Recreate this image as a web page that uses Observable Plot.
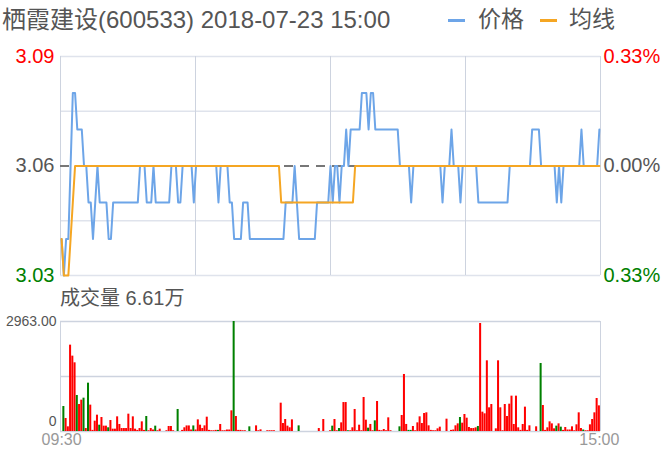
<!DOCTYPE html>
<html><head><meta charset="utf-8">
<script src="https://cdn.jsdelivr.net/npm/d3@7"></script>
<script src="https://cdn.jsdelivr.net/npm/@observablehq/plot@0.6"></script>
<style>
body{margin:0;background:#fff;}
#wrap{position:relative;width:662px;height:458px;overflow:hidden;font-family:"Liberation Sans",Arial,"Noto Sans CJK SC",sans-serif;}
.abs{position:absolute;white-space:nowrap;}
</style></head><body><div id="wrap"></div>
<script>
const title = "栖霞建设(600533) 2018-07-23 15:00";
const seriesNames = ["价格", "均线"];
const priceTicks = [3.09, 3.06, 3.03];
const priceTickLabels = ["3.09", "3.06", "3.03"];
const pctTickLabels = ["0.33%", "0.00%", "0.33%"];
const prevClose = 3.06;
const timeTickIdx = [0, 240];
const timeLabels = ["09:30", "15:00"];
const volumeLabel = "成交量 6.61万";
const volMax = 2963;
const volMaxLabel = "2963.00";

const price = [
3.04,3.03,3.04,3.04,3.06,3.08,3.08,3.07,3.07,3.07,
3.06,3.06,3.05,3.05,3.04,3.05,3.06,3.05,3.05,3.05,
3.05,3.04,3.04,3.05,3.05,3.05,3.05,3.05,3.05,3.05,
3.05,3.05,3.05,3.05,3.05,3.06,3.06,3.06,3.05,3.05,
3.05,3.06,3.05,3.05,3.05,3.05,3.05,3.05,3.05,3.06,
3.06,3.06,3.05,3.05,3.06,3.06,3.06,3.06,3.06,3.05,
3.06,3.06,3.06,3.06,3.06,3.06,3.06,3.06,3.06,3.06,
3.05,3.06,3.06,3.06,3.06,3.05,3.05,3.04,3.04,3.04,
3.04,3.05,3.05,3.05,3.04,3.04,3.04,3.04,3.04,3.04,
3.04,3.04,3.04,3.04,3.04,3.04,3.04,3.04,3.04,3.04,
3.05,3.05,3.05,3.05,3.06,3.05,3.04,3.04,3.04,3.04,
3.04,3.04,3.04,3.04,3.05,3.05,3.05,3.05,3.05,3.05,
3.06,3.05,3.06,3.06,3.05,3.06,3.06,3.07,3.06,3.07,
3.07,3.07,3.07,3.07,3.08,3.08,3.08,3.07,3.08,3.08,
3.07,3.07,3.07,3.07,3.07,3.07,3.07,3.07,3.07,3.07,
3.07,3.06,3.06,3.06,3.06,3.06,3.05,3.06,3.06,3.06,
3.06,3.06,3.06,3.06,3.06,3.06,3.06,3.06,3.06,3.06,
3.05,3.06,3.06,3.06,3.07,3.06,3.06,3.06,3.05,3.06,
3.06,3.06,3.06,3.06,3.06,3.06,3.05,3.05,3.05,3.05,
3.05,3.05,3.05,3.05,3.05,3.05,3.05,3.05,3.05,3.05,
3.06,3.06,3.06,3.06,3.06,3.06,3.06,3.06,3.06,3.06,
3.07,3.07,3.07,3.07,3.06,3.06,3.06,3.06,3.06,3.06,
3.06,3.05,3.06,3.05,3.06,3.06,3.06,3.06,3.06,3.06,
3.06,3.06,3.07,3.06,3.06,3.06,3.06,3.06,3.06,3.06,3.07];

const avg = [
3.04,3.03,3.03,3.03,3.04,3.05,3.06,3.06,3.06,3.06,
3.06,3.06,3.06,3.06,3.06,3.06,3.06,3.06,3.06,3.06,
3.06,3.06,3.06,3.06,3.06,3.06,3.06,3.06,3.06,3.06,
3.06,3.06,3.06,3.06,3.06,3.06,3.06,3.06,3.06,3.06,
3.06,3.06,3.06,3.06,3.06,3.06,3.06,3.06,3.06,3.06,
3.06,3.06,3.06,3.06,3.06,3.06,3.06,3.06,3.06,3.06,
3.06,3.06,3.06,3.06,3.06,3.06,3.06,3.06,3.06,3.06,
3.06,3.06,3.06,3.06,3.06,3.06,3.06,3.06,3.06,3.06,
3.06,3.06,3.06,3.06,3.06,3.06,3.06,3.06,3.06,3.06,
3.06,3.06,3.06,3.06,3.06,3.06,3.06,3.06,3.05,3.05,
3.05,3.05,3.05,3.05,3.05,3.05,3.05,3.05,3.05,3.05,
3.05,3.05,3.05,3.05,3.05,3.05,3.05,3.05,3.05,3.05,
3.05,3.05,3.05,3.05,3.05,3.05,3.05,3.05,3.05,3.05,
3.05,3.06,3.06,3.06,3.06,3.06,3.06,3.06,3.06,3.06,
3.06,3.06,3.06,3.06,3.06,3.06,3.06,3.06,3.06,3.06,
3.06,3.06,3.06,3.06,3.06,3.06,3.06,3.06,3.06,3.06,
3.06,3.06,3.06,3.06,3.06,3.06,3.06,3.06,3.06,3.06,
3.06,3.06,3.06,3.06,3.06,3.06,3.06,3.06,3.06,3.06,
3.06,3.06,3.06,3.06,3.06,3.06,3.06,3.06,3.06,3.06,
3.06,3.06,3.06,3.06,3.06,3.06,3.06,3.06,3.06,3.06,
3.06,3.06,3.06,3.06,3.06,3.06,3.06,3.06,3.06,3.06,
3.06,3.06,3.06,3.06,3.06,3.06,3.06,3.06,3.06,3.06,
3.06,3.06,3.06,3.06,3.06,3.06,3.06,3.06,3.06,3.06,
3.06,3.06,3.06,3.06,3.06,3.06,3.06,3.06,3.06,3.06,3.06];

const volume = [
0,673,350,126,2326,2030,1850,970,727,844,
898,80,1302,710,30,278,440,170,377,144,
144,100,296,63,63,395,189,80,80,80,
467,80,395,63,30,80,260,30,404,20,
80,40,144,20,63,0,0,20,135,135,
20,0,593,0,30,100,150,150,40,150,
40,314,170,80,152,386,30,20,20,30,
30,189,20,20,40,40,557,2963,404,30,
30,20,20,0,126,0,0,152,20,45,
0,0,20,20,20,20,0,0,763,215,
323,144,100,314,0,0,152,0,0,0,
0,0,0,0,0,80,0,323,0,0,
20,144,323,20,80,233,780,780,20,20,
100,593,20,170,20,916,305,90,190,20,
287,808,30,20,54,20,368,20,0,0,
0,126,431,1536,190,30,30,135,20,233,
395,215,485,503,153,30,20,20,72,117,
0,0,332,0,30,40,153,206,377,224,
458,359,108,80,80,99,135,2909,521,476,
1904,638,727,0,72,1904,638,20,727,404,
736,952,189,952,99,30,189,656,30,153,
0,0,126,0,1832,700,30,99,260,206,
72,144,206,117,30,108,40,40,126,20,
180,503,80,40,20,20,180,323,503,889,691];

const downBars = [1,7,10,12,17,21,38,42,52,59,70,77,84,106,121,124,128,137,140,151,155,156,178,186,214,221,223,233];

// ---------- drawing ----------
const FONT = '"Liberation Sans", Arial, "Noto Sans CJK SC", sans-serif';
const BLUE = "#6da5e8", ORANGE = "#f5a623", GRID = "#dfe3ec", BORDER = "#cdd3df";
const RED = "#ff0000", GREEN = "#008000", GREY = "#555";
const tickColors = [RED, GREY, GREEN];

const wrap = document.getElementById("wrap");
const idx = d3.range(price.length);
const X_DOMAIN = [-0.5, price.length - 0.5];
const xQuarters = d3.range(5).map(k => X_DOMAIN[0] + k * (X_DOMAIN[1] - X_DOMAIN[0]) / 4);
const yDomain = [priceTicks[2], priceTicks[0]];
const yQuarters = d3.range(5).map(k => yDomain[0] + k * (yDomain[1] - yDomain[0]) / 4);

const pricePlot = Plot.plot({
  width: 662, height: 260,
  marginLeft: 60, marginRight: 62, marginTop: 26, marginBottom: 15,
  style: {background: "transparent", fontFamily: FONT, overflow: "visible"},
  x: {domain: X_DOMAIN, axis: null},
  y: {domain: yDomain, axis: null},
  marks: [
    Plot.ruleY(yQuarters.filter(v => Math.abs(v - prevClose) > 1e-9), {stroke: GRID, strokeWidth: 1.5}),
    Plot.ruleX(xQuarters, {stroke: BORDER, strokeWidth: 1}),
    Plot.ruleY([prevClose], {stroke: "#777", strokeWidth: 2, strokeDasharray: "9,7"}),
    Plot.line(idx, {x: i => i, y: i => price[i], stroke: BLUE, strokeWidth: 2}),
    Plot.line(idx, {x: i => i, y: i => avg[i], stroke: ORANGE, strokeWidth: 2}),
    ...priceTicks.map((v, k) => Plot.text([v], {
      y: d => d, text: () => priceTickLabels[k], frameAnchor: "left",
      textAnchor: "end", dx: -6, fill: tickColors[k], fontSize: 20
    })),
    ...priceTicks.map((v, k) => Plot.text([v], {
      y: d => d, text: () => pctTickLabels[k], frameAnchor: "right",
      textAnchor: "start", dx: 3, fill: tickColors[k], fontSize: 20
    }))
  ]
});
pricePlot.style.position = "absolute";
pricePlot.style.left = "0px";
pricePlot.style.top = "30px";
wrap.appendChild(pricePlot);

const volData = idx.map(i => ({i, v: volume[i], down: downBars.includes(i)}));
const volPlot = Plot.plot({
  width: 662, height: 153,
  marginLeft: 60, marginRight: 62, marginTop: 16, marginBottom: 27,
  style: {background: "transparent", fontFamily: FONT, overflow: "visible"},
  x: {domain: X_DOMAIN, axis: null},
  y: {domain: [0, volMax], axis: null},
  marks: [
    Plot.ruleY([0, volMax / 2, volMax], {stroke: BORDER, strokeWidth: 1.5}),
    Plot.ruleX([X_DOMAIN[0], X_DOMAIN[1]], {stroke: BORDER, strokeWidth: 1}),
    Plot.rect(volData.filter(d => !d.down && d.v > 0), {x1: d => d.i - 0.45, x2: d => d.i + 0.45, y1: () => 0, y2: d => d.v, fill: RED}),
    Plot.rect(volData.filter(d => d.down && d.v > 0), {x1: d => d.i - 0.45, x2: d => d.i + 0.45, y1: () => 0, y2: d => d.v, fill: GREEN}),
    Plot.text([volMax], {y: d => d, text: () => volMaxLabel, frameAnchor: "left", textAnchor: "end", dx: -4, fill: GREY, fontSize: 14}),
    Plot.text([0], {y: d => d, text: d => String(d), frameAnchor: "left", textAnchor: "end", dx: -4, dy: -10, fill: GREY, fontSize: 14}),
    Plot.text(timeTickIdx, {x: d => d, text: (d, k) => timeLabels[k], frameAnchor: "bottom", dy: 13, fill: "#999", fontSize: 16})
  ]
});
volPlot.style.position = "absolute";
volPlot.style.left = "0px";
volPlot.style.top = "305px";
wrap.appendChild(volPlot);

function addText(txt, left, top, size, color) {
  const d = document.createElement("div");
  d.className = "abs";
  d.textContent = txt;
  d.style.left = left + "px";
  d.style.top = top + "px";
  d.style.fontSize = size + "px";
  d.style.lineHeight = "1";
  d.style.color = color;
  wrap.appendChild(d);
  return d;
}
function addDash(left, top, color) {
  const d = document.createElement("div");
  d.className = "abs";
  d.style.left = left + "px";
  d.style.top = top + "px";
  d.style.width = "17px";
  d.style.height = "3px";
  d.style.background = color;
  wrap.appendChild(d);
}
addText(title, 2, 8, 24, GREY);
addDash(448, 19, BLUE);
addText(seriesNames[0], 478, 8, 23, GREY);
addDash(540, 19, ORANGE);
addText(seriesNames[1], 569, 8, 23, GREY);
addText(volumeLabel, 60, 288, 20, GREY);
</script>
</body></html>
